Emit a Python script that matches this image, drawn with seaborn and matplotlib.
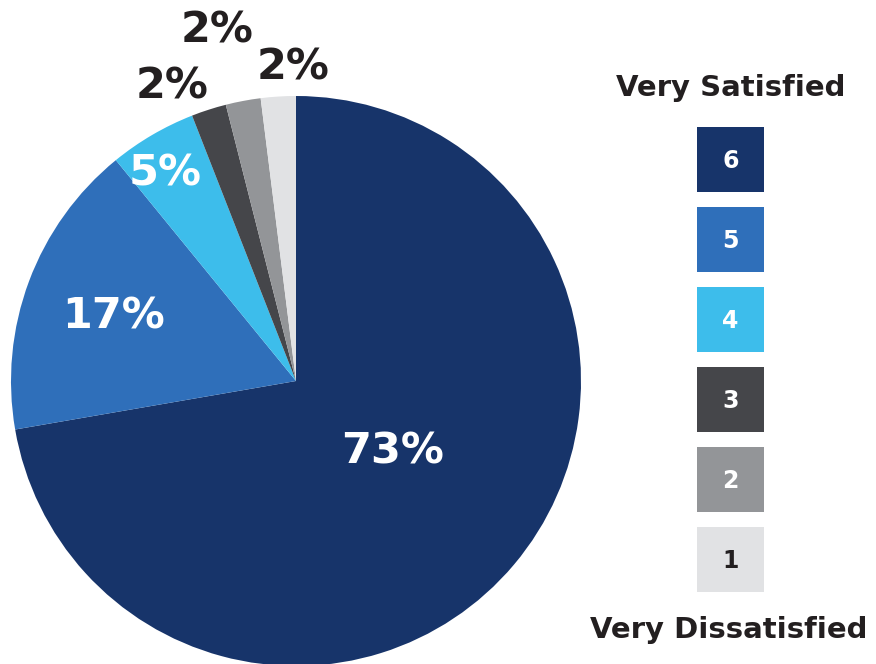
import numpy as np
import matplotlib
matplotlib.use("Agg")
import matplotlib.pyplot as plt
from matplotlib.patches import Rectangle
import seaborn as sns

# data
ratings = ["6", "5", "4", "3", "2", "1"]
shares = [73, 17, 5, 2, 2, 2]
share_labels = ["73%", "17%", "5%", "2%", "2%", "2%"]
colors = ["#17346A", "#2F6FBA", "#3DBDEB", "#45464A", "#939598", "#E1E2E4"]

sns.set_theme(style="white")
plt.rcParams['font.family'] = ['DejaVu Sans']
palette = sns.color_palette(colors)
dark = "#231F20"

W, H = 876, 664
fig = plt.figure(figsize=(W / 100, H / 100), dpi=100)

# pie axes: centre (296, 381) px, radius 285 px
cx, cy, r = 296, 381, 285
ax = fig.add_axes([(cx - r) / W, (H - cy - r) / H, 2 * r / W, 2 * r / H])
wedges, _ = ax.pie(shares, colors=palette, startangle=90, counterclock=False,
                   radius=1, wedgeprops=dict(linewidth=0))
ax.set_xlim(-1, 1)
ax.set_ylim(-1, 1)
ax.set_aspect("equal")
ax.axis("off")

# label placement: radius and angle nudge per slice
lab_r = [0.42, 0.68, 0.86, 1.12, 1.26, 1.10]
lab_nudge = [4, 1, 2, 5, 2, -3]
for w, lab, rr, dn, i in zip(wedges, share_labels, lab_r, lab_nudge, range(6)):
    ang = np.deg2rad((w.theta1 + w.theta2) / 2 + dn)
    col = "white" if i < 3 else dark
    ax.text(rr * np.cos(ang), rr * np.sin(ang), lab, ha="center", va="center",
            color=col, fontsize=31, fontweight="bold", clip_on=False)

# legend axes in pixel coordinates
lax = fig.add_axes([0, 0, 1, 1])
lax.set_xlim(0, W)
lax.set_ylim(H, 0)
lax.axis("off")
bx, bw, bh, top, step = 697, 67, 65, 127, 80
for k, (rt, c) in enumerate(zip(ratings, palette)):
    y0 = top + k * step
    lax.add_patch(Rectangle((bx, y0), bw, bh, color=c, lw=0))
    lax.text(bx + bw / 2, y0 + bh / 2 + 1, rt, ha="center", va="center",
             fontsize=17, fontweight="bold", color=dark if rt == "1" else "white")
lax.text(bx + bw / 2, 88, "Very Satisfied", ha="center", va="center",
         fontsize=21, fontweight="bold", color=dark)
lax.text(bx + bw / 2 - 2, 630, "Very Dissatisfied", ha="center", va="center",
         fontsize=21, fontweight="bold", color=dark)

fig.savefig("out.png", dpi=100)
